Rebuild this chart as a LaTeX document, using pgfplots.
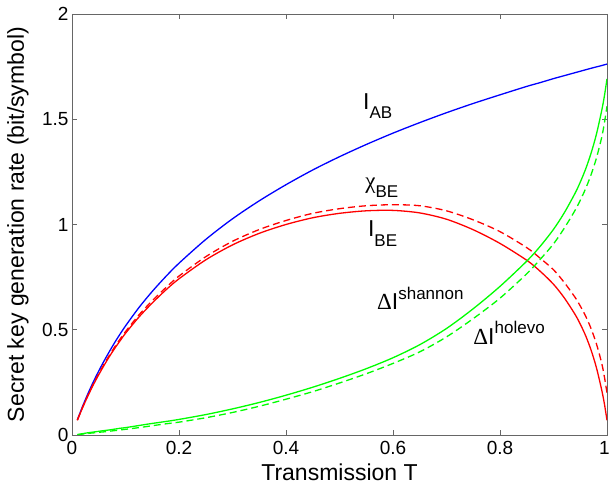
\documentclass[border=0pt]{standalone}
\usepackage{fontspec}
\setmainfont{Liberation Sans}
\newfontfamily\symfont{Liberation Serif}
\usepackage{pgfplots}
\usepackage{pgfplotstable}
\pgfplotsset{compat=1.18}
\definecolor{mblue}{rgb}{0,0,1}
\definecolor{mred}{rgb}{1,0,0}
\definecolor{mgreen}{rgb}{0,1,0}
\pgfplotstableread{
T IAB IBE chi dIs dIh
0.01 0.072 0.070 0.071 0.002 0.001
0.02 0.1375 0.131 0.133 0.0065 0.0045
0.03 0.1976 0.187 0.190 0.0106 0.0076
0.04 0.253 0.239 0.243 0.014 0.010
0.05 0.304 0.2865 0.291 0.0175 0.013
0.06 0.352 0.331 0.337 0.021 0.015
0.07 0.397 0.373 0.379 0.024 0.018
0.08 0.440 0.412 0.419 0.028 0.021
0.09 0.480 0.448 0.456 0.032 0.024
0.10 0.518 0.483 0.491 0.035 0.027
0.125 0.605 0.560 0.570 0.045 0.035
0.15 0.682 0.627 0.638 0.055 0.044
0.175 0.752 0.688 0.699 0.064 0.053
0.20 0.816 0.742 0.755 0.074 0.061
0.25 0.929 0.832 0.847 0.097 0.082
0.30 1.027 0.903 0.920 0.124 0.107
0.35 1.1125 0.958 0.976 0.1545 0.1365
0.40 1.189 1.000 1.019 0.189 0.170
0.45 1.259 1.032 1.053 0.227 0.206
0.50 1.322 1.053 1.075 0.269 0.247
0.55 1.380 1.065 1.089 0.315 0.291
0.60 1.434 1.067 1.094 0.367 0.340
0.65 1.484 1.055 1.089 0.429 0.395
0.70 1.531 1.025 1.065 0.506 0.466
0.75 1.575 0.975 1.022 0.600 0.553
0.80 1.616 0.910 0.966 0.706 0.650
0.85 1.656 0.830 0.890 0.826 0.766
0.875 1.674 0.778 0.840 0.896 0.834
0.90 1.693 0.716 0.785 0.977 0.908
0.92 1.707 0.652 0.725 1.055 0.982
0.94 1.721 0.574 0.655 1.147 1.066
0.95 1.728 0.527 0.613 1.201 1.115
0.96 1.735 0.472 0.565 1.263 1.170
0.97 1.742 0.405 0.507 1.337 1.235
0.98 1.7485 0.322 0.435 1.4265 1.3135
0.99 1.755 0.215 0.342 1.540 1.413
0.995 1.7585 0.150 0.278 1.6085 1.4805
1.00 1.762 0.070 0.200 1.692 1.562
}\datatable
\newcommand{\lab}{\fontsize{23}{23}\selectfont}
\newcommand{\scr}{\fontsize{17}{17}\selectfont}
\begin{document}
\begin{tikzpicture}
\begin{axis}[
  scale only axis, width=535pt, height=421pt,
  xmin=0, xmax=1, ymin=0, ymax=2,
  xtick={0,0.2,0.4,0.6,0.8,1}, ytick={0,0.5,1,1.5,2},
  xticklabels={0,0.2,0.4,0.6,0.8,1\kern5pt},
  tick align=inside, major tick length=5pt,
  axis line style={black!60, line width=0.6pt},
  tick style={black!60, line width=0.6pt},
  ticklabel style={font=\fontsize{19}{19}\selectfont},
  /pgf/number format/assume math mode=true,
  xticklabel style={yshift=-3pt},
  xlabel={Transmission T},
  ylabel={Secret key generation rate (bit/symbol)},
  label style={font=\lab},
  xlabel style={at={(axis description cs:0.5,-0.107)}, anchor=base},
  ylabel style={at={(axis description cs:-0.09,0.5)}, anchor=base},
  every axis plot/.append style={line width=1.3pt, smooth, tension=0.5},
]
\addplot[mblue] table[x=T, y=IAB] {\datatable};
\addplot[mred] table[x=T, y=IBE] {\datatable};
\addplot[mred, dash pattern=on 7pt off 4pt] table[x=T, y=chi] {\datatable};
\addplot[mgreen] table[x=T, y=dIs] {\datatable};
\addplot[mgreen, dash pattern=on 7pt off 4pt] table[x=T, y=dIh] {\datatable};
\node[anchor=base west, inner sep=0, font=\lab] at (axis cs:0.544,1.544) {I\raisebox{-9pt}{\scr AB}};
\node[anchor=base west, inner sep=0, font=\lab] at (axis cs:0.548,1.173) {{\symfont χ}\raisebox{-9pt}{\scr BE}};
\node[anchor=base west, inner sep=0, font=\lab] at (axis cs:0.553,0.942) {I\raisebox{-10pt}{\scr BE}};
\node[anchor=base west, inner sep=0, font=\lab] at (axis cs:0.570,0.594) {{\symfont Δ}I\raisebox{10pt}{\scr shannon}};
\node[anchor=base west, inner sep=0, font=\lab] at (axis cs:0.750,0.428) {{\symfont Δ}I\raisebox{11pt}{\scr holevo}};
\end{axis}
\pgfresetboundingbox
\path ([xshift=-72pt,yshift=-51pt]current axis.south west) rectangle ([xshift=3pt,yshift=14pt]current axis.north east);
\end{tikzpicture}
\end{document}
